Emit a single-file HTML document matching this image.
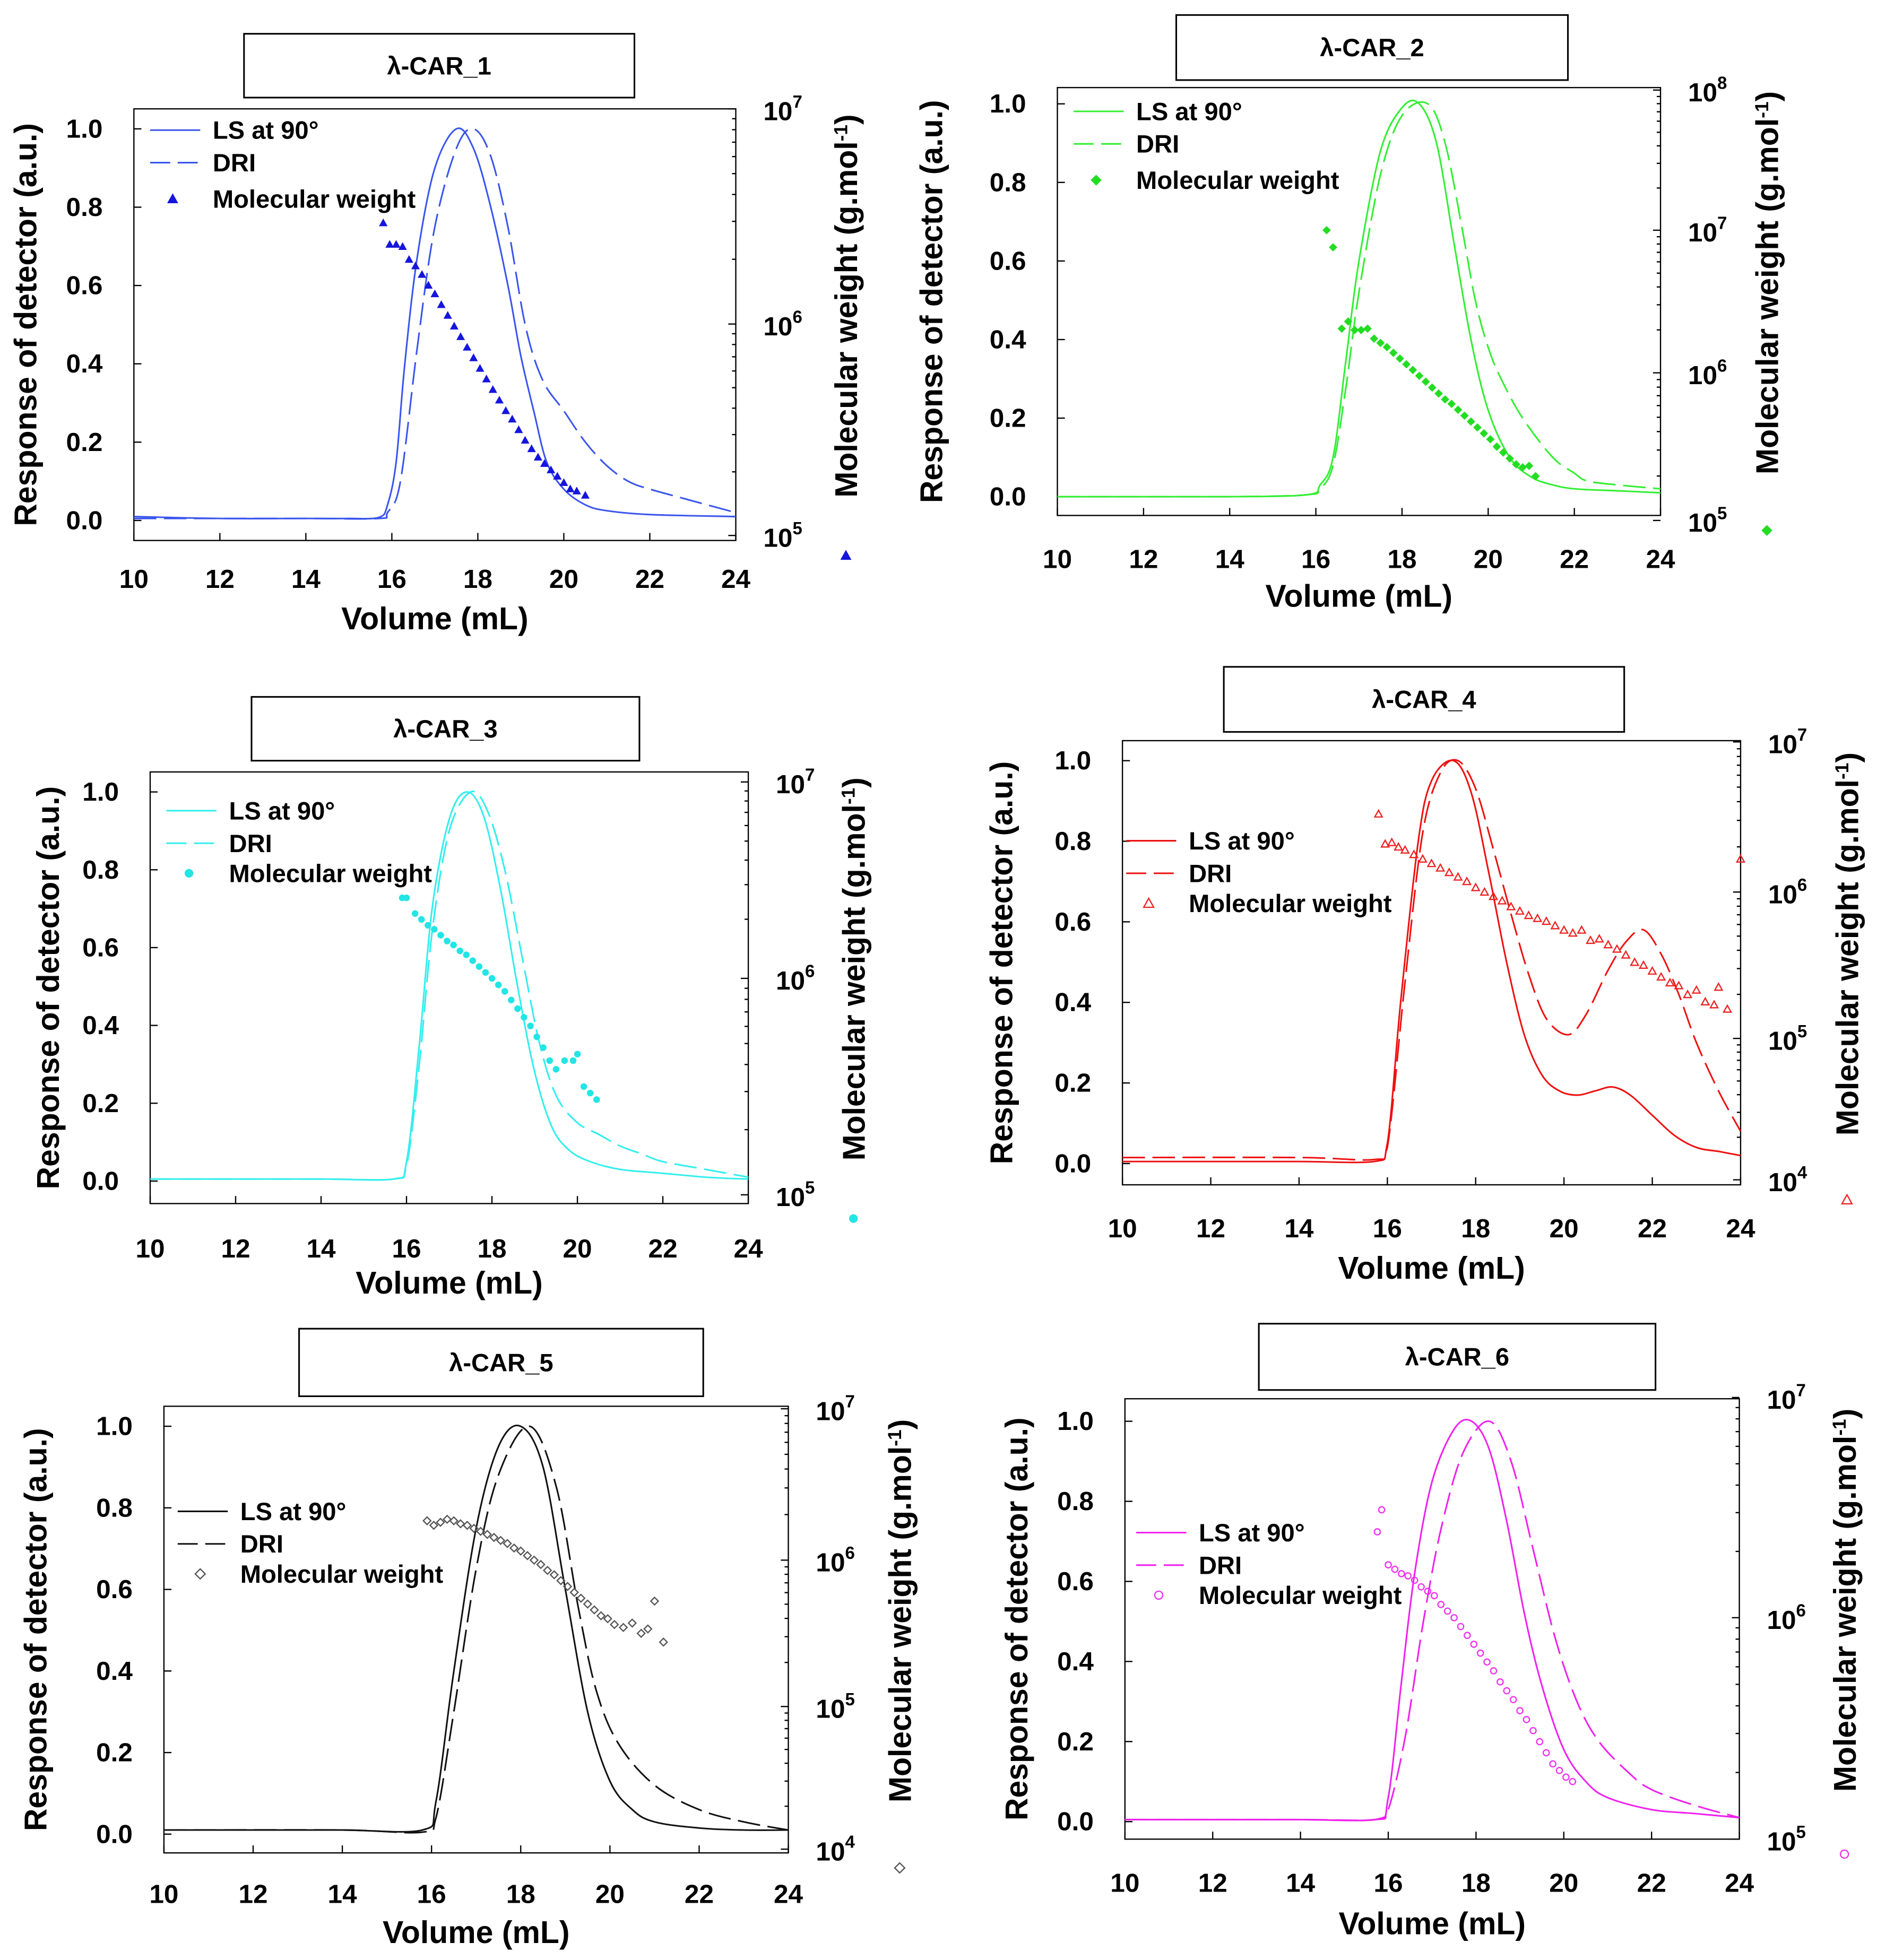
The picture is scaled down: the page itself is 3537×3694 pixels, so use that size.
<!DOCTYPE html>
<html><head><meta charset="utf-8"><style>
html,body{margin:0;padding:0;background:#fff}
svg{display:block}
text{font-family:"Liberation Sans",sans-serif;font-weight:bold;fill:#000}
</style></head><body>
<svg id="chart" width="3537" height="3694" viewBox="0 0 1500 1566.6" xmlns="http://www.w3.org/2000/svg"></svg>
<script>
// ---- data (volume mL, response / log10 MW) ----
const xTicks=[10,12,14,16,18,20,22,24];
const yTicks=[0.0,0.2,0.4,0.6,0.8,1.0];
const names=["λ-CAR_1","λ-CAR_2","λ-CAR_3","λ-CAR_4","λ-CAR_5","λ-CAR_6"];
const ls1V=[10,12,14,15,15.7,15.9,16.1,16.3,16.6,17,17.5,17.9,18.3,18.7,19,19.3,19.6,20,20.5,21,22,24];
const ls1Y=[0.01,0.005,0.005,0.005,0.008,0.04,0.15,0.4,0.68,0.9,1.0,0.95,0.8,0.6,0.42,0.28,0.15,0.08,0.04,0.025,0.015,0.01];
const dri1V=[10,14,15.7,15.9,16.2,16.6,17,17.5,17.9,18.3,18.7,19.1,19.5,20,20.5,21,21.5,22,23,24];
const dri1Y=[0.005,0.005,0.005,0.02,0.1,0.45,0.75,0.95,1.0,0.93,0.75,0.5,0.36,0.28,0.2,0.14,0.1,0.08,0.05,0.02];
const mw1V=[15.8,15.95,16.1,16.25,16.4,16.55,16.7,16.85,17,17.15,17.3,17.45,17.6,17.75,17.9,18.05,18.2,18.35,18.5,18.65,18.8,18.95,19.1,19.25,19.4,19.55,19.7,19.85,20,20.15,20.3,20.5];
const mw1L=[6.47,6.37,6.37,6.36,6.3,6.27,6.23,6.18,6.14,6.09,6.04,5.99,5.94,5.89,5.84,5.79,5.74,5.69,5.64,5.59,5.55,5.5,5.45,5.41,5.37,5.34,5.31,5.28,5.25,5.22,5.21,5.19];
const ls2V=[10,12,14,15.8,16.1,16.4,16.7,17,17.5,18,18.4,18.8,19.2,19.6,20,20.5,21,21.5,22,23,24];
const ls2Y=[0.0,0.0,0.0,0.005,0.03,0.1,0.35,0.6,0.88,0.99,1.0,0.9,0.65,0.4,0.22,0.1,0.05,0.03,0.02,0.015,0.01];
const dri2V=[10,14,15.8,16.1,16.4,16.7,17,17.5,18,18.6,19,19.4,19.7,20,20.3,20.8,21.5,22,22.3,23,24];
const dri2Y=[0.0,0.0,0.005,0.02,0.08,0.28,0.52,0.82,0.97,1.0,0.9,0.68,0.5,0.38,0.3,0.2,0.1,0.06,0.04,0.03,0.02];
const mw2V=[16.25,16.4,16.6,16.75,16.9,17.05,17.2,17.35,17.5,17.65,17.8,17.95,18.1,18.25,18.4,18.55,18.7,18.85,19,19.15,19.3,19.45,19.6,19.75,19.9,20.05,20.2,20.35,20.5,20.65,20.8,20.95,21.1];
const mw2L=[7.0,6.88,6.31,6.36,6.3,6.3,6.31,6.24,6.21,6.18,6.14,6.1,6.06,6.02,5.98,5.94,5.9,5.86,5.82,5.79,5.75,5.71,5.67,5.63,5.59,5.55,5.5,5.46,5.42,5.38,5.36,5.37,5.3];
const ls3V=[10,12,14,15.7,16,16.3,16.6,17,17.4,17.8,18.2,18.6,19,19.4,19.8,20.3,21,22,23,24];
const ls3Y=[0.005,0.005,0.005,0.005,0.05,0.35,0.7,0.93,1.0,0.94,0.75,0.5,0.28,0.14,0.08,0.05,0.03,0.02,0.01,0.005];
const dri3V=[10,14,15.7,16,16.3,16.6,17,17.5,17.9,18.3,18.7,19.1,19.5,20,20.5,21,21.5,22,23,24];
const dri3Y=[0.005,0.005,0.005,0.04,0.3,0.64,0.9,1.0,0.95,0.8,0.58,0.36,0.22,0.15,0.12,0.09,0.07,0.05,0.03,0.01];
const mw3V=[15.9,16.0,16.2,16.35,16.5,16.65,16.8,16.95,17.1,17.25,17.4,17.55,17.7,17.85,18.0,18.15,18.3,18.45,18.6,18.75,18.9,19.05,19.2,19.35,19.5,19.7,19.9,20.0,20.15,20.3,20.45];
const mw3L=[6.41,6.41,6.33,6.3,6.27,6.25,6.22,6.19,6.17,6.14,6.12,6.09,6.06,6.03,6.0,5.97,5.94,5.9,5.86,5.82,5.78,5.73,5.68,5.62,5.58,5.62,5.62,5.65,5.5,5.47,5.44];
const ls4V=[10,12,14,15.7,16,16.3,16.7,17,17.5,17.9,18.3,18.7,19.1,19.5,19.9,20.3,20.7,21.1,21.5,22,22.5,23,23.5,24];
const ls4Y=[0.005,0.005,0.005,0.005,0.05,0.4,0.8,0.95,1.0,0.92,0.72,0.5,0.32,0.22,0.18,0.17,0.18,0.19,0.17,0.12,0.07,0.04,0.03,0.02];
const dri4V=[10,14,15.7,16,16.4,16.8,17.2,17.6,18,18.4,18.8,19.2,19.6,20.1,20.5,21,21.4,21.8,22.2,22.6,23,23.5,24];
const dri4Y=[0.015,0.015,0.01,0.04,0.45,0.82,0.97,1.0,0.93,0.78,0.62,0.47,0.36,0.32,0.37,0.48,0.55,0.58,0.52,0.42,0.3,0.18,0.08];
const mw4V=[15.8,15.95,16.1,16.25,16.4,16.6,16.8,17.0,17.2,17.4,17.6,17.8,18.0,18.2,18.4,18.6,18.8,19.0,19.2,19.4,19.6,19.8,20.0,20.2,20.4,20.6,20.8,21.0,21.2,21.4,21.6,21.8,22.0,22.2,22.4,22.6,22.8,23.0,23.2,23.4,23.5,23.7,24.0];
const mw4L=[6.52,6.32,6.33,6.3,6.28,6.25,6.22,6.19,6.16,6.13,6.1,6.07,6.03,6.0,5.97,5.94,5.9,5.87,5.84,5.82,5.8,5.77,5.74,5.72,5.74,5.67,5.68,5.64,5.61,5.57,5.52,5.5,5.46,5.42,5.38,5.36,5.3,5.33,5.25,5.23,5.35,5.2,6.22];
const ls5V=[10,12,14,15.8,16.1,16.5,17,17.5,18,18.5,19,19.5,20,20.5,21,22,23,24];
const ls5Y=[0.01,0.01,0.01,0.01,0.08,0.4,0.75,0.95,1.0,0.9,0.6,0.3,0.13,0.06,0.03,0.015,0.01,0.01];
const dri5V=[10,14,15.8,16.1,16.5,17,17.5,18.2,18.8,19.3,19.7,20.2,21,22,23,24];
const dri5Y=[0.01,0.01,0.005,0.04,0.3,0.65,0.88,1.0,0.85,0.55,0.35,0.22,0.12,0.06,0.03,0.01];
const mw5V=[15.9,16.05,16.2,16.35,16.5,16.65,16.8,16.95,17.1,17.25,17.4,17.55,17.7,17.85,18.0,18.15,18.3,18.45,18.6,18.75,18.9,19.05,19.2,19.35,19.5,19.65,19.8,19.95,20.1,20.3,20.5,20.7,20.85,21.0,21.2];
const mw5L=[6.26,6.23,6.25,6.27,6.26,6.24,6.23,6.21,6.19,6.17,6.15,6.13,6.11,6.08,6.06,6.03,6.0,5.97,5.93,5.9,5.86,5.82,5.78,5.74,5.7,5.66,5.62,5.6,5.56,5.54,5.57,5.5,5.53,5.72,5.44];
const ls6V=[10,12,14,15.7,16,16.3,16.6,17,17.5,17.9,18.3,18.7,19.1,19.5,20,20.5,21,22,23,24];
const ls6Y=[0.005,0.005,0.005,0.005,0.06,0.35,0.62,0.85,0.98,1.0,0.93,0.75,0.52,0.34,0.18,0.1,0.06,0.03,0.02,0.01];
const dri6V=[10,14,15.7,16,16.4,16.8,17.2,17.7,18.3,18.8,19.3,19.8,20.3,20.8,21.5,22,23,24];
const dri6Y=[0.005,0.005,0.005,0.03,0.22,0.5,0.73,0.92,1.0,0.9,0.68,0.46,0.3,0.2,0.12,0.08,0.04,0.01];
const mw6V=[15.75,15.85,16.0,16.15,16.3,16.45,16.6,16.75,16.9,17.05,17.2,17.35,17.5,17.65,17.8,17.95,18.1,18.25,18.4,18.55,18.7,18.85,19.0,19.15,19.3,19.45,19.6,19.75,19.9,20.05,20.2];
const mw6L=[6.39,6.49,6.24,6.22,6.2,6.19,6.17,6.14,6.12,6.1,6.06,6.03,6.0,5.96,5.92,5.88,5.84,5.8,5.76,5.71,5.67,5.63,5.58,5.54,5.49,5.44,5.39,5.34,5.31,5.28,5.26];

const series=[[ls1V,ls1Y,dri1V,dri1Y,mw1V,mw1L],[ls2V,ls2Y,dri2V,dri2Y,mw2V,mw2L],[ls3V,ls3Y,dri3V,dri3Y,mw3V,mw3L],[ls4V,ls4Y,dri4V,dri4Y,mw4V,mw4L],[ls5V,ls5Y,dri5V,dri5Y,mw5V,mw5L],[ls6V,ls6Y,dri6V,dri6Y,mw6V,mw6L]];

// ---- layout (pixel geometry, not data) ----
const P=[
 {x0:107,x1:588,ft:87,fb:432,y1:103,y0:416,rd:[[7,87],[6,259],[5,428]],tb:[195,27,507,78],tickY:462,titY:494,ylx:20,rlx:676,col:"#3a55ee",mc:"#1515dd",mk:"tri",mf:true,lg:[120,104]},
 {x0:845,x1:1327,ft:70,fb:412,y1:83,y0:397,rd:[[8,72],[7,184],[6,298],[5,416]],tb:[940,12,1253,64],tickY:446,titY:476,ylx:744,rlx:1412,col:"#33ee33",mc:"#22dd22",mk:"dia",mf:true,lg:[858,89]},
 {x0:120,x1:598,ft:617,fb:962,y1:633,y0:944,rd:[[7,625],[6,782],[5,955]],tb:[201,557,511,608],tickY:997,titY:1025,ylx:38,rlx:682,col:"#33eeee",mc:"#22e5e5",mk:"cir",mf:true,lg:[133,648]},
 {x0:897,x1:1391,ft:592,fb:947,y1:608,y0:930,rd:[[7,593],[6,713],[5,830],[4,943]],tb:[978,533,1298,585],tickY:981,titY:1013,ylx:800,rlx:1476,col:"#ee1111",mc:"#ee2222",mk:"tri",mf:false,lg:[900,672]},
 {x0:131,x1:630,ft:1124,fb:1481,y1:1140,y0:1466,rd:[[7,1126],[6,1247],[5,1364],[4,1478]],tb:[239,1062,562,1116],tickY:1513,titY:1544,ylx:28,rlx:719,col:"#111111",mc:"#555555",mk:"dia",mf:false,lg:[142,1208]},
 {x0:899,x1:1390,ft:1118,fb:1470,y1:1136,y0:1456,rd:[[7,1117],[6,1293],[5,1470]],tb:[1006,1058,1323,1111],tickY:1504,titY:1537,ylx:812,rlx:1474,col:"#ee22ee",mc:"#ee33ee",mk:"cir",mf:false,lg:[908,1225]}
];
const NS="http://www.w3.org/2000/svg";
const svg=document.getElementById("chart");
function el(tag,attrs,parent,txt){const e=document.createElementNS(NS,tag);for(const k in attrs)e.setAttribute(k,attrs[k]);if(txt!==undefined)e.textContent=txt;(parent||svg).appendChild(e);return e;}
function marker(g,mk,x,y,c,f,s){let e;
 if(mk==="tri")e=el("polygon",{points:`${x},${y-s} ${x-s},${y+s*0.8} ${x+s},${y+s*0.8}`},g);
 else if(mk==="dia")e=el("polygon",{points:`${x},${y-s} ${x+s},${y} ${x},${y+s} ${x-s},${y}`},g);
 else e=el("circle",{cx:x,cy:y,r:s*0.8},g);
 e.setAttribute("fill",f?c:"none");e.setAttribute("stroke",c);e.setAttribute("stroke-width",f?0.5:1);
 return e;}
function smooth(pts,ymin,ymax){
 let d="M"+pts[0][0].toFixed(1)+","+pts[0][1].toFixed(1);
 for(let i=0;i<pts.length-1;i++){
  const p0=pts[Math.max(0,i-1)],p1=pts[i],p2=pts[i+1],p3=pts[Math.min(pts.length-1,i+2)];
  const t=1/6;
  let c1x=p1[0]+(p2[0]-p0[0])*t,c1y=p1[1]+(p2[1]-p0[1])*t;
  let c2x=p2[0]-(p3[0]-p1[0])*t,c2y=p2[1]-(p3[1]-p1[1])*t;
  c1y=Math.min(ymax,Math.max(ymin,c1y));c2y=Math.min(ymax,Math.max(ymin,c2y));
  d+=`C${c1x.toFixed(1)},${c1y.toFixed(1)} ${c2x.toFixed(1)},${c2y.toFixed(1)} ${p2[0].toFixed(1)},${p2[1].toFixed(1)}`;
 }
 return d;}
P.forEach((p,i)=>{
 const [lsV,lsY,drV,drY,mwV,mwL]=series[i];
 const sx=v=>p.x0+(v-10)/14*(p.x1-p.x0);
 const sy=v=>p.y0+(v)*(p.y1-p.y0);
 const sr=l=>{const d=p.rd;for(let k=0;k<d.length-1;k++){if(l<=d[k][0]&&l>=d[k+1][0]){const t=(d[k][0]-l);return d[k][1]+t*(d[k+1][1]-d[k][1]);}}return l>d[0][0]?d[0][1]:d[d.length-1][1];};
 const g=el("g",{});
 
 
 const tb=el("g",{},g);
 
 
 el("rect",{x:p.tb[0],y:p.tb[1],width:p.tb[2]-p.tb[0],height:p.tb[3]-p.tb[1],fill:"#fff",stroke:"#000","stroke-width":1.3},tb);
 el("text",{x:(p.tb[0]+p.tb[2])/2,y:(p.tb[1]+p.tb[3])/2+7,"text-anchor":"middle","font-size":20},tb,names[i]);
 const fr=el("rect",{x:p.x0,y:p.ft,width:p.x1-p.x0,height:p.fb-p.ft,fill:"none",stroke:"#000","stroke-width":1},g);
 
 
 xTicks.forEach(t=>{const x=sx(t);
  el("line",{x1:x,y1:p.fb,x2:x,y2:p.fb-6,stroke:"#000"},g);
  const tl=el("text",{x:x,y:p.tickY+8,"text-anchor":"middle","font-size":21},g,String(t));
  
  });
 const xt=el("text",{x:(p.x0+p.x1)/2,y:p.titY+9,"text-anchor":"middle","font-size":25},g,"Volume (mL)");
 
 
 yTicks.forEach(t=>{const y=sy(t);
  el("line",{x1:p.x0,y1:y,x2:p.x0+6,y2:y,stroke:"#000"},g);
  const tl=el("text",{x:p.x0-25,y:y+7,"text-anchor":"end","font-size":21},g,t.toFixed(1));
  
  });
 const yt=el("text",{x:0,y:0,"text-anchor":"middle","font-size":25,transform:`translate(${p.ylx+9},${(p.ft+p.fb)/2}) rotate(-90)`},g,"Response of detector (a.u.)");
 
 
 p.rd.forEach(([d,y])=>{
  el("line",{x1:p.x1,y1:y,x2:p.x1-6,y2:y,stroke:"#000"},g);
  for(let m=2;m<10&&p.rd[p.rd.length-1][0]<d;m++){const yy=sr(d-1+Math.log10(m));el("line",{x1:p.x1,y1:yy,x2:p.x1-3,y2:yy,stroke:"#000"},g);}
  const tl=el("text",{x:p.x1+22,y:y+9,"font-size":21},g,"10");
  el("tspan",{dy:-10,"font-size":14},tl,String(d));
  
  });
 const rt=el("text",{x:0,y:0,"text-anchor":"middle","font-size":25,transform:`translate(${p.rlx+9},${(p.ft+p.fb)/2-15}) rotate(-90)`},g,"Molecular weight (g.mol");
 el("tspan",{dy:-8,"font-size":15},rt,"-1");el("tspan",{dy:8},rt,")");
 
 
 const rm=marker(g,p.mk,p.rlx,p.fb+12,p.mc,p.mf,4);
 
 
 const ymin=sy(1.02),ymax=sy(0);
 const path=(V,Y)=>smooth(V.map((v,k)=>[sx(v),sy(Y[k])]),ymin,ymax);
 const ls=el("path",{d:path(lsV,lsY),fill:"none",stroke:p.col,"stroke-width":1.3,"stroke-linejoin":"round"},g);
 
 
 const dr=el("path",{d:path(drV,drY),fill:"none",stroke:p.col,"stroke-width":1.3,"stroke-dasharray":"18,6"},g);
 
 
 mwV.forEach((v,k)=>{const m=marker(g,p.mk,sx(v),sr(mwL[k]),p.mc,p.mf,3);
  
  });
 const lg=el("g",{},g);
 
 
 const [lx,ly]=p.lg;
 el("line",{x1:lx,y1:ly,x2:lx+40,y2:ly,stroke:p.col,"stroke-width":1.3},lg);
 el("text",{x:lx+50,y:ly+7,"font-size":20},lg,"LS at 90°");
 el("line",{x1:lx,y1:ly+26,x2:lx+40,y2:ly+26,stroke:p.col,"stroke-width":1.3,"stroke-dasharray":"16,6"},lg);
 el("text",{x:lx+50,y:ly+33,"font-size":20},lg,"DRI");
 marker(lg,p.mk,lx+18,ly+(i===0||i===1?55:50),p.mc,p.mf,4);
 el("text",{x:lx+50,y:ly+(i===0||i===1?62:57),"font-size":20},lg,"Molecular weight");
});
</script>
</body></html>
